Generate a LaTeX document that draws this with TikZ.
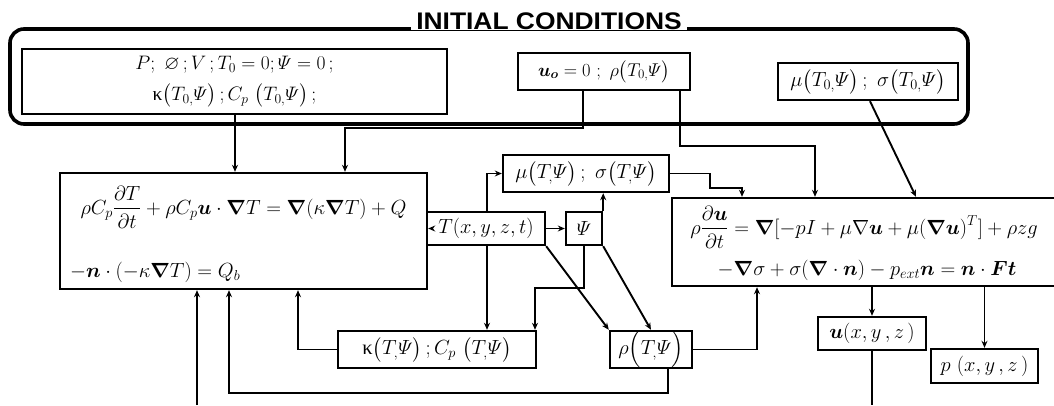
\RequirePackage{fix-cm}
\documentclass[tikz,border=0pt]{standalone}
\usepackage{amsmath,amssymb,bm}
\usepackage{fontspec}
\usetikzlibrary{arrows.meta,calc}
\newfontfamily\titlefont{Liberation Sans}
\newfontfamily\grk{Liberation Serif}
\newcommand{\kap}{\text{\grk κ}}
\begin{document}
\begin{tikzpicture}[x=1pt,y=-1pt,
  box/.style={draw,line width=2.4pt,inner sep=0pt,font=\fontsize{20.5}{24}\selectfont},
  eq/.style={inner sep=0pt,font=\fontsize{20.5}{24}\selectfont},
  conn/.style={line width=1.9pt},
  arr/.style={line width=1.9pt,-{Stealth[length=7pt,width=6pt]}},
  outer/.style={line width=3.6pt,rounded corners=14pt},
  titlestyle/.style={fill=white,inner xsep=5pt,inner ysep=1pt,font=\titlefont\bfseries\fontsize{24}{24}\selectfont}]
\useasboundingbox (0,0) rectangle (1054,405);
\clip (0,0) rectangle (1054,405);

% initial conditions frame
\draw[outer] (10,29) rectangle (968,124);
\node[titlestyle] (title) at (549,21) {\scalebox{1.1}[1]{INITIAL CONDITIONS}};

% boxes
\node[box,font=\fontsize{19.5}{21}\selectfont,minimum width=425pt,minimum height=65pt,align=center] (A) at (234.5,81.5)
  {$P;\ \varnothing\,;V\,;T_0=0;\varPsi=0\,;$\\[10pt] $\kap\bigl(T_{0,}\varPsi\bigr)\,;C_p\ \bigl(T_{0,}\varPsi\bigr)\,;$};
\node[box,font=\fontsize{18.5}{22}\selectfont,minimum width=172pt,minimum height=37pt] (B) at (604,71.5)
  {$\bm{u_o}=0\ ;\ \rho\bigl(T_{0,}\varPsi\bigr)$};
\node[box,minimum width=180pt,minimum height=37pt] (C) at (868,81.5)
  {$\mu\bigl(T_{0,}\varPsi\bigr)\,;\ \sigma\bigl(T_{0,}\varPsi\bigr)$};
\node[box,minimum width=367pt,minimum height=116pt] (D) at (243.5,231) {};
\node[eq] (D1) at (243.5,207)
  {$\displaystyle \rho C_p\frac{\partial T}{\partial t}+\rho C_p\bm{u}\cdot\bm{\nabla}T=\bm{\nabla}(\kappa\bm{\nabla}T)+Q$};
\node[eq,anchor=west] (D2) at (70,272)
  {$-\bm{n}\cdot(-\kappa\bm{\nabla}T)=Q_b$};
\node[box,minimum width=118pt,minimum height=33pt] (E) at (486,228.5) {$T(x,y,z,t)$};
\node[box,minimum width=36pt,minimum height=33pt] (F) at (584,228.5) {$\varPsi$};
\node[box,minimum width=166pt,minimum height=37pt] (G) at (586,173.5)
  {$\mu\bigl(T_{,}\varPsi\bigr)\,;\ \sigma\bigl(T_{,}\varPsi\bigr)$};
\node[box,minimum width=398pt,minimum height=88pt] (H) at (871,242) {};
\node[eq] (H1) at (864,227)
  {$\displaystyle \rho\frac{\partial\bm{u}}{\partial t}=\bm{\nabla}[-pI+\mu\nabla\bm{u}+\mu(\bm{\nabla}\bm{u})^T]+\rho zg$};
\node[eq] (H2) at (867,270)
  {$-\bm{\nabla}\sigma+\sigma(\bm{\nabla}\cdot\bm{n})-p_{ext}\bm{n}=\bm{n}\cdot\bm{Ft}$};
\node[box,minimum width=198pt,minimum height=37pt] (I) at (437,349.5)
  {$\kap\bigl(T_{,}\varPsi\bigr)\,;C_p\ \bigl(T_{,}\varPsi\bigr)$};
\node[box,minimum width=82pt,minimum height=37pt] (J) at (651,349.5)
  {$\rho\Bigl(T_{,}\varPsi\Bigr)$};
\node[box,minimum width=108pt,minimum height=33pt] (K) at (872,333.5)
  {$\bm{u}(x,y\,,z\,)$};
\node[box,minimum width=107pt,minimum height=34pt] (L) at (984.5,366)
  {$p\ (x,y\,,z\,)$};

% helper coordinates
\coordinate (xa) at (235,0);
\coordinate (xb1) at (583,0);
\coordinate (b1) at (345,128);
\coordinate (xb2) at (680,0);
\coordinate (b2) at (815,146);
\coordinate (xc1) at (870,0);
\coordinate (xc2) at (916,0);
\coordinate (xe) at (487,0);
\coordinate (g1) at (710,188);
\coordinate (xg) at (742,0);
\coordinate (f1) at (535,288);
\coordinate (xi) at (298,0);
\coordinate (xj) at (668,0);
\coordinate (j1) at (229,393);
\coordinate (xjh) at (757,0);
\coordinate (kend) at (872,405);
\coordinate (dend) at (197,405);

% connectors
\draw[arr] (A.south -| xa) -- (D.north -| xa);
\draw[arr] (B.south -| xb1) |- (b1) -- (D.north -| b1);
\draw[arr] (B.south -| xb2) |- (b2) -- (H.north -| b2);
\draw[arr] (C.south -| xc1) -- (H.north -| xc2);
\draw[arr] ([xshift=6pt]E.west) -- (E.west -| D.east);
\draw[arr] (E) -- (F);
\draw[arr] (E.north -| xe) |- (G.west);
\draw[arr] (F.north east) -- (G.south -| F.north east);
\draw[arr] (G.east) -| (g1) -- (g1 -| xg) -- (H.north -| xg);
\draw[arr] (E.south -| xe) -- (I.north -| xe);
\draw[arr] (F.south) |- (f1) -- (I.north -| f1);
\draw[arr] (E.south east) -- (J.north west);
\draw[arr] (F.south east) -- (J.north);
\draw[arr] (I.west) -| (D.south -| xi);
\draw[arr] (J.south -| xj) |- (j1) -- (D.south -| j1);
\draw[arr] (J.east) -| (H.south -| xjh);
\draw[arr] (H.south -| K.north) -- (K.north);
\draw[arr] (H.south -| L.north) -- (L.north);
\draw[conn] (K.south) -- (kend);
\draw[arr] (dend) -- (D.south -| dend);
\end{tikzpicture}
\end{document}
